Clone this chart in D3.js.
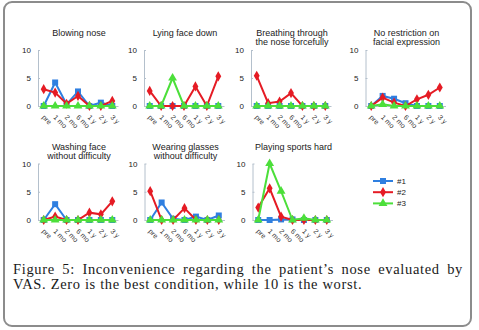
<!DOCTYPE html>
<html>
<head>
<meta charset="utf-8">
<script src="https://cdn.jsdelivr.net/npm/d3@7"></script>
<style>
  body { margin: 0; background: #fff; }
  svg { display: block; }
</style>
</head>
<body>
<svg width="479" height="330"></svg>
<script>
// time points on the x axis
const periods = ["pre", "1 mo", "2 mo", "6 mo", "1 y", "2 y", "3 y"];
const yTicks = [0, 5, 10];
const legendLabels = ["#1", "#2", "#3"];
const colors = ["#2f7fe0", "#e51b24", "#4cdf3a"];

// one entry per small panel, title lines
const panelTitles = [
  ["Blowing nose"],
  ["Lying face down"],
  ["Breathing through", "the nose forcefully"],
  ["No restriction on", "facial expression"],
  ["Washing face", "without difficulty"],
  ["Wearing glasses", "without difficulty"],
  ["Playing sports hard"]
];

// VAS values, patient #1 / #2 / #3, per panel
const series1 = [
  [0, 4.2, 0.3, 2.6, 0, 0.6, 0],
  [0, 0, 0, 0, 0, 0, 0],
  [0, 0, 0, 0, 0, 0, 0],
  [0, 1.8, 1.3, 0.5, 0, 0, 0],
  [0, 2.8, 0, 0, 0, 0, 0],
  [0, 3.1, 0.2, 0, 0.6, 0, 0.8],
  [0, 0, 0.1, 0.1, 0, 0, 0]
];
const series2 = [
  [3.0, 2.4, 0.4, 1.8, 0, 0, 0.9],
  [2.7, 0, 0, 0, 3.5, 0, 5.3],
  [5.4, 0.5, 0.8, 2.3, 0, 0, 0],
  [0, 1.5, 0.6, 0, 1.2, 2.0, 3.3],
  [0, 0.6, 0, 0, 1.3, 1.0, 3.3],
  [5.1, 0, 0, 2.1, 0, 0, 0],
  [2.2, 5.6, 0.6, 0, 0, 0, 0]
];
const series3 = [
  [0, 0, 0, 0, 0, 0, 0],
  [0, 0, 5.0, 0, 0, 0, 0],
  [0, 0, 0, 0, 0, 0, 0],
  [0, 0.3, 0, 0, 0, 0, 0],
  [0, 0, 0, 0, 0, 0, 0],
  [0, 0, 0, 0, 0, 0, 0],
  [0, 10, 5.1, 0, 0.3, 0, 0]
];

const captionLines = [
  "Figure 5: Inconvenience regarding the patient\u2019s nose evaluated by",
  "VAS. Zero is the best condition, while 10 is the worst."
];

var svg = d3.select("svg");

// frame
svg.append("rect")
  .attr("x", 4).attr("y", 2)
  .attr("width", 467).attr("height", 324)
  .attr("rx", 8)
  .attr("fill", "#fff")
  .attr("stroke", "#8c8c8c")
  .attr("stroke-width", 2);

// panel placement (left edge of plot, row)
var panelX = [38, 144, 251, 365.5, 38, 144.5, 252.5];
var panelRow = [0, 0, 0, 0, 1, 1, 1];
var rowTop = [50, 163.5], rowBottom = [106, 220];
var titleY = [36, 150];
var plotW = 80;

var symbols = [d3.symbolSquare, d3.symbolDiamond, d3.symbolTriangle];
var symSize = [36, 30, 34];

panelTitles.forEach(function (title, p) {
  var r = panelRow[p];
  var x = d3.scalePoint().domain(periods).range([panelX[p], panelX[p] + plotW]).padding(0.5),
    y = d3.scaleLinear().domain([0, 10]).range([rowBottom[r], rowTop[r]]);

  var g = svg.append("g");

  // title
  g.append("text")
    .attr("x", panelX[p] + 41)
    .attr("y", titleY[r])
    .attr("text-anchor", "middle")
    .style("font", "9px 'Liberation Sans', Arial, sans-serif")
    .attr("fill", "#222")
    .selectAll("tspan")
    .data(title)
    .enter().append("tspan")
    .attr("x", panelX[p] + 41)
    .attr("dy", function (d, i) { return i ? 9 : 0; })
    .text(function (d) { return d; });

  // y axis
  var ya = g.append("g")
    .attr("transform", "translate(" + panelX[p] + ",0)")
    .call(d3.axisLeft(y).tickValues(yTicks).tickSizeInner(-2).tickSizeOuter(0).tickPadding(7));
  ya.select(".domain").attr("stroke", "#b4c0cc");
  ya.selectAll(".tick line").attr("stroke", "#b4c0cc");
  ya.selectAll(".tick text")
    .style("font", "8px 'Liberation Sans', Arial, sans-serif")
    .attr("fill", "#222");

  // x axis
  var xa = g.append("g")
    .attr("transform", "translate(0," + rowBottom[r] + ")")
    .call(d3.axisBottom(x).tickSize(0).tickPadding(0));
  xa.select(".domain").attr("stroke", "#b4c0cc");
  xa.selectAll(".tick text")
    .style("font", "7px 'Liberation Sans', Arial, sans-serif")
    .attr("fill", "#333")
    .attr("text-anchor", "start")
    .attr("dy", "0.35em")
    .attr("transform", "translate(-1,10) rotate(45)");

  // lines and markers, #1 first so #3 sits on top
  [series1[p], series2[p], series3[p]].forEach(function (vals, s) {
    var pts = vals.map(function (v, i) { return [periods[i], v]; });
    g.append("path")
      .datum(pts)
      .attr("fill", "none")
      .attr("stroke", colors[s])
      .attr("stroke-width", 2)
      .attr("d", d3.line()
        .x(function (d) { return x(d[0]); })
        .y(function (d) { return y(d[1]); }));
    g.selectAll(".m" + s)
      .data(pts)
      .enter().append("path")
      .attr("class", "m" + s)
      .attr("transform", function (d) { return "translate(" + x(d[0]) + "," + y(d[1]) + ")"; })
      .attr("d", d3.symbol().type(symbols[s]).size(symSize[s]))
      .attr("fill", colors[s]);
  });
});

// legend
var legend = svg.append("g")
  .selectAll("g")
  .data(legendLabels)
  .enter().append("g")
  .attr("transform", function (d, i) { return "translate(373," + (181 + i * 11.2) + ")"; });
legend.append("line")
  .attr("x1", 0).attr("x2", 20)
  .attr("stroke", function (d, i) { return colors[i]; })
  .attr("stroke-width", 2);
legend.append("path")
  .attr("transform", "translate(10,0)")
  .attr("d", function (d, i) { return d3.symbol().type(symbols[i]).size(symSize[i])(); })
  .attr("fill", function (d, i) { return colors[i]; });
legend.append("text")
  .attr("x", 24)
  .attr("dy", "0.35em")
  .style("font", "8px 'Liberation Sans', Arial, sans-serif")
  .attr("fill", "#222")
  .text(function (d) { return d; });

// caption, first line justified
var cap = svg.append("g")
  .style("font", "14.5px 'Liberation Serif', 'Times New Roman', serif")
  .style("letter-spacing", "0.65px")
  .attr("fill", "#1a1a1a");
captionLines.forEach(function (line, i) {
  var t = cap.append("text")
    .attr("x", 13)
    .attr("y", 274 + i * 15)
    .text(line);
  if (i === 0) {
    var gaps = line.split(" ").length - 1;
    var extra = (463 - 13 - t.node().getComputedTextLength()) / gaps;
    t.style("word-spacing", extra + "px");
  }
});
</script>
</body>
</html>
